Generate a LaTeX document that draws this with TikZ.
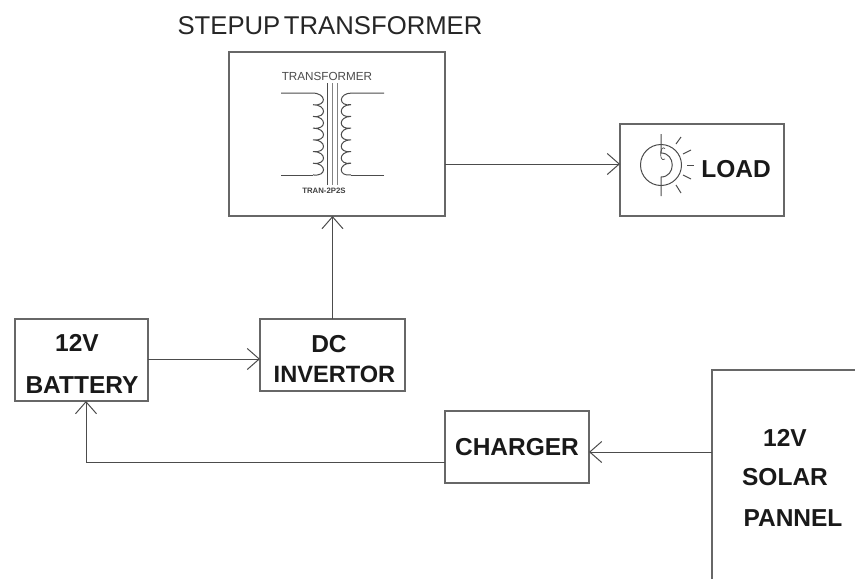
\documentclass[tikz,border=0pt]{standalone}
\usepackage{fontspec}
\setmainfont{Liberation Sans}
\usetikzlibrary{arrows.meta}
\definecolor{ln}{gray}{0.3}
\tikzset{
  x=1pt,y=-1pt,
  wire/.style={draw=ln,line width=1pt},
  flow/.style={wire,-{Straight Barb[length=12pt,width=21pt,line width=1pt]}},
  blockbox/.style={draw=ln!85,line width=1.3pt,fill=white,inner sep=0,outer sep=0,anchor=north west},
  lbl/.style={font=\bfseries\fontsize{24.5}{24.5}\selectfont,text=black!90,inner sep=0},
  thin part/.style={draw=ln,line width=1pt},
}
\begin{document}
\begin{tikzpicture}
\useasboundingbox (0,0) rectangle (855,579);
\fill[white] (0,0) rectangle (855,579);
% blocks
\node[blockbox,minimum width=216pt,minimum height=164pt] (tr) at (229,52) {};
\node[blockbox,minimum width=164pt,minimum height=92pt] (load) at (620,124) {};
\node[blockbox,minimum width=133pt,minimum height=82pt] (bat) at (15,319) {};
\node[blockbox,minimum width=145pt,minimum height=72pt] (dc) at (260,319) {};
\node[blockbox,minimum width=144pt,minimum height=72pt] (chg) at (445,411) {};
% solar panel (runs off the page)
\coordinate (solw) at (712,452);
\coordinate (soltr) at (855,370);
\coordinate (solbl) at (712,579);
\draw[blockbox] (soltr) -- (712,370) -- (solbl);
% connectors
\draw[flow] (tr.east |- 0,164) coordinate (trout) -- (load.west |- trout);
\draw[flow] (dc.north) -- (tr.south -| dc.north);
\draw[flow] (bat.east |- 0,359) coordinate (batout) -- (dc.west |- batout);
\coordinate (chgout) at (445,462);
\draw[flow] (chgout) -| (bat.south -| 86,0);
\draw[flow] (solw) -- (chg.east |- solw);
% labels
\node[font=\fontsize{25.7}{25}\selectfont,text=black!85,inner sep=0] (title) at (330,26) {STEPUP\hspace{-3.5pt} TRANSFORMER};
\node[font=\fontsize{11.7}{12}\selectfont,text=black!70,inner sep=0] (ttop) at (327,76) {TRANSFORMER};
\node[font=\bfseries\fontsize{7.8}{8}\selectfont,text=black!75,inner sep=0] (tbot) at (324,191) {TRAN-2P2S};
\node[lbl] (loadtxt) at (736,169) {LOAD};
\node[lbl] (b1) at (77,343) {12V};
\node[lbl] (b2) at (82,385) {BATTERY};
\node[lbl] (d1) at (329,344) {DC};
\node[lbl,font=\bfseries\fontsize{23.6}{24}\selectfont] (d2) at (334.5,374) {INVERTOR};
\node[lbl] (c1) at (517,447) {CHARGER};
\node[lbl] (s1) at (785,438) {12V};
\node[lbl] (s2) at (785,477) {SOLAR};
\node[lbl] (s3) at (793,518) {PANNEL};
% transformer symbol
\draw[thin part] (327,83) -- (327,185);
\draw[thin part,draw=ln!70] (332,83) -- (332,185);
\draw[thin part,draw=ln!70] (337,83) -- (337,185);
\draw[thin part] (281,93) -- (312,93)
  \foreach \i in {0,...,6} { .. controls (327,{93+\i*11.7}) and (327,{93+(\i+1)*11.7+2}) .. (313,{93+(\i+1)*11.7}) };
\draw[thin part] (281,175) -- (313,175);
\draw[thin part] (384,93) -- (352,93)
  \foreach \i in {0,...,6} { .. controls (338,{93+\i*11.7}) and (338,{93+(\i+1)*11.7+2}) .. (351,{93+(\i+1)*11.7}) };
\draw[thin part] (384,175) -- (351,175);
% lamp symbol
\draw[thin part] (661,165) circle (20.5);
\draw[thin part] (661,134) -- (661,153) .. controls (676,153) and (676,177) .. (661,177) -- (661,196);
\draw[thin part,line width=0.7pt] (665,159) arc (60:300:3 and 6);
\draw[thin part] (676,144) -- (681,137);
\draw[thin part] (683,154) -- (691,150);
\draw[thin part] (687,165) -- (694,165);
\draw[thin part] (683,175) -- (691,179);
\draw[thin part] (676,185) -- (681,193);
\end{tikzpicture}
\end{document}
